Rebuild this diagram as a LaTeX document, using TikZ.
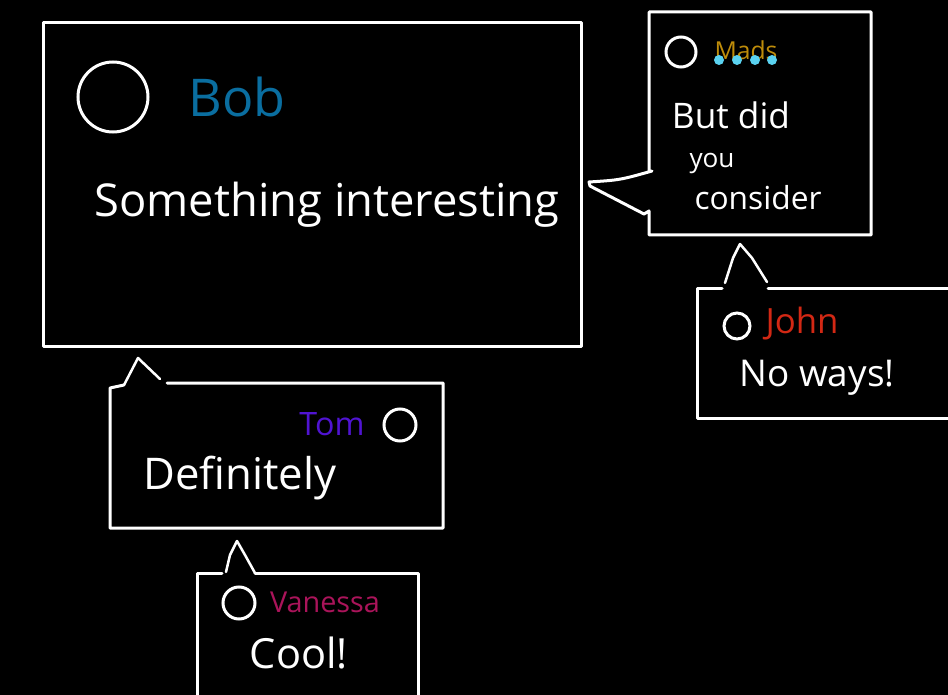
\documentclass[tikz,border=0pt]{standalone}
\usepackage{fontspec}
\setmainfont{Open Sans}
\definecolor{bobblue}{RGB}{10,110,160}
\definecolor{madsgold}{RGB}{190,140,10}
\definecolor{dotcyan}{RGB}{90,210,240}
\definecolor{johnred}{RGB}{210,40,20}
\definecolor{tompurple}{RGB}{80,20,210}
\definecolor{vanmag}{RGB}{170,20,90}
\tikzset{
  bubble/.style={draw=white, line width=3pt, line join=round, line cap=round},
  tailline/.style={draw=white, line width=2.5pt, line join=round, line cap=round},
  avatar/.style={draw=white, line width=3pt},
  msg/.style={text=white, inner sep=0pt, anchor=center},
  uname/.style={inner sep=0pt, anchor=center},
}
\begin{document}
\begin{tikzpicture}[x=1pt,y=-1pt]
\fill[black] (0,0) rectangle (948,695);
\useasboundingbox (0,0) rectangle (948,695);
\clip (0,0) rectangle (948,695);

% Bob's box
\draw[bubble] (43,23) rectangle (581,346);
\draw[avatar] (113,97) circle (35);
\node[uname, text=bobblue] (bob) at (237,97) {\resizebox{97pt}{!}{Bob}};
\node[msg] (bobmsg) at (327,205) {\resizebox{465pt}{!}{Something interesting}};

% Mads's box with tail to the left
\draw[bubble] (649,172) -- (649,12) -- (871,12) -- (871,235) -- (649,235) -- (649,211)
  -- (644,214) -- (590,186) -- (589,182) .. controls (620,180) .. (652,171);
\draw[avatar] (681,52) circle (15);
\node[uname, text=madsgold] (mads) at (746,50) {\resizebox{63pt}{!}{Mads}};
\foreach \x [count=\i] in {719,737,755,772}
  \fill[dotcyan] (\x,60) circle (5);
\node[msg] (madsa) at (731,115) {\resizebox{118pt}{!}{But did}};
\node[msg] (madsb) at (712,164) {\resizebox{45pt}{!}{you}};
\node[msg] (madsc) at (758,198) {\resizebox{127pt}{!}{consider}};

% John's box with tail up
\draw[bubble] (955,288) -- (768,288);
\draw[tailline] (767,282) -- (752,258) -- (740,244) -- (733,258) -- (725,283);
\draw[bubble] (722,288) -- (697,288) -- (697,418) -- (955,418);
\draw[avatar] (737,326) circle (13);
\node[uname, text=johnred] (john) at (802,324) {\resizebox{73pt}{!}{John}};
\node[msg] (johnmsg) at (817,378) {\resizebox{155pt}{!}{No ways!}};

% Tom's box with tail up
\draw[bubble] (167,383) -- (443,383) -- (443,528) -- (110,528) -- (110,388) -- (124,385);
\draw[tailline] (124,385) -- (138,358) -- (160,379);
\draw[avatar] (400,425) circle (16);
\node[uname, text=tompurple] (tom) at (332,424) {\resizebox{65pt}{!}{Tom}};
\node[msg] (tommsg) at (240,478) {\resizebox{193pt}{!}{Definitely}};

% Vanessa's box with tail up
\draw[bubble] (255,573) -- (418,573) -- (418,700);
\draw[tailline] (255,573) -- (245,555) -- (237,541) -- (230,555) -- (226,572);
\draw[bubble] (222,573) -- (197,573) -- (197,700);
\draw[avatar] (239,603) circle (16);
\node[uname, text=vanmag] (van) at (325,602) {\resizebox{110pt}{!}{Vanessa}};
\node[msg] (vanmsg) at (299,653) {\resizebox{98pt}{!}{Cool!}};
\end{tikzpicture}
\end{document}
